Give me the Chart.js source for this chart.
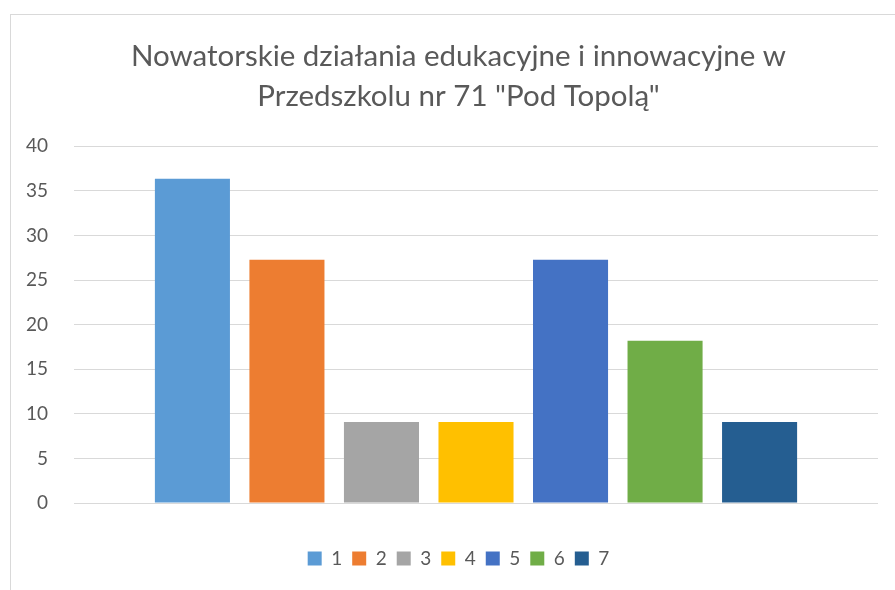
<!DOCTYPE html>
<html>
<head>
<meta charset="utf-8">
<script src="https://cdn.jsdelivr.net/npm/chart.js@4/dist/chart.umd.min.js"></script>
<style>
  html, body { margin: 0; padding: 0; background: #fff; overflow: hidden; }
  #box { position: absolute; left: 10px; top: 14px; width: 895px; height: 590px; border: 1px solid #d9d9d9; }
</style>
</head>
<body>
<div id="box"><canvas id="myChart" width="895" height="590"></canvas></div>
<script>
const seriesNames = ["1", "2", "3", "4", "5", "6", "7"];
const seriesValues = [36.36, 27.27, 9.09, 9.09, 27.27, 18.18, 9.09];
const seriesColors = ["#5B9BD5", "#ED7D31", "#A5A5A5", "#FFC000", "#4472C4", "#70AD47", "#255E91"];
const yTicks = [0, 5, 10, 15, 20, 25, 30, 35, 40];

const fontFamily = "Lato, 'Open Sans', sans-serif";

window.onload = function() {
  let ctx = document.getElementById('myChart').getContext('2d');

  let datasets = seriesNames.map(function(name, i) {
    return {
      label: name,
      data: [seriesValues[i]],
      backgroundColor: seriesColors[i],
      categoryPercentage: 0.823,
      barPercentage: 0.794
    };
  });

  new Chart(ctx, {
    type: 'bar',
    data: { labels: [''], datasets: datasets },
    options: {
      responsive: false,
      animation: false,
      layout: { padding: { left: 0, right: 0, top: 0, bottom: 27 } },
      plugins: {
        title: {
          display: true,
          text: ['Nowatorskie działania edukacyjne i innowacyjne w', 'Przedszkolu nr 71 "Pod Topolą"'],
          color: '#595959',
          font: { family: fontFamily, size: 29.5, weight: 'normal', lineHeight: 1.36 },
          padding: { top: 21, bottom: 30 }
        },
        legend: {
          position: 'bottom',
          labels: {
            boxWidth: 14,
            boxHeight: 14,
            padding: 10,
            color: '#595959',
            font: { family: fontFamily, size: 19 }
          }
        },
        tooltip: { enabled: false }
      },
      scales: {
        x: {
          afterFit: function(scale) { scale.height = 36; },
          grid: { display: false },
          border: { display: false },
          ticks: { display: false }
        },
        y: {
          min: 0,
          max: 40,
          afterFit: function(scale) { scale.width = 63; },
          afterBuildTicks: function(scale) {
            scale.ticks = yTicks.map(function(v) { return { value: v }; });
          },
          grid: { color: '#d9d9d9', drawTicks: false },
          border: { display: false },
          ticks: {
            padding: 26,
            color: '#595959',
            font: { family: fontFamily, size: 19 }
          }
        },
        yRight: {
          position: 'right',
          min: 0,
          max: 40,
          afterFit: function(scale) { scale.width = 28; },
          grid: { display: false },
          border: { display: false },
          ticks: { display: false }
        }
      }
    }
  });
};
</script>
</body>
</html>
